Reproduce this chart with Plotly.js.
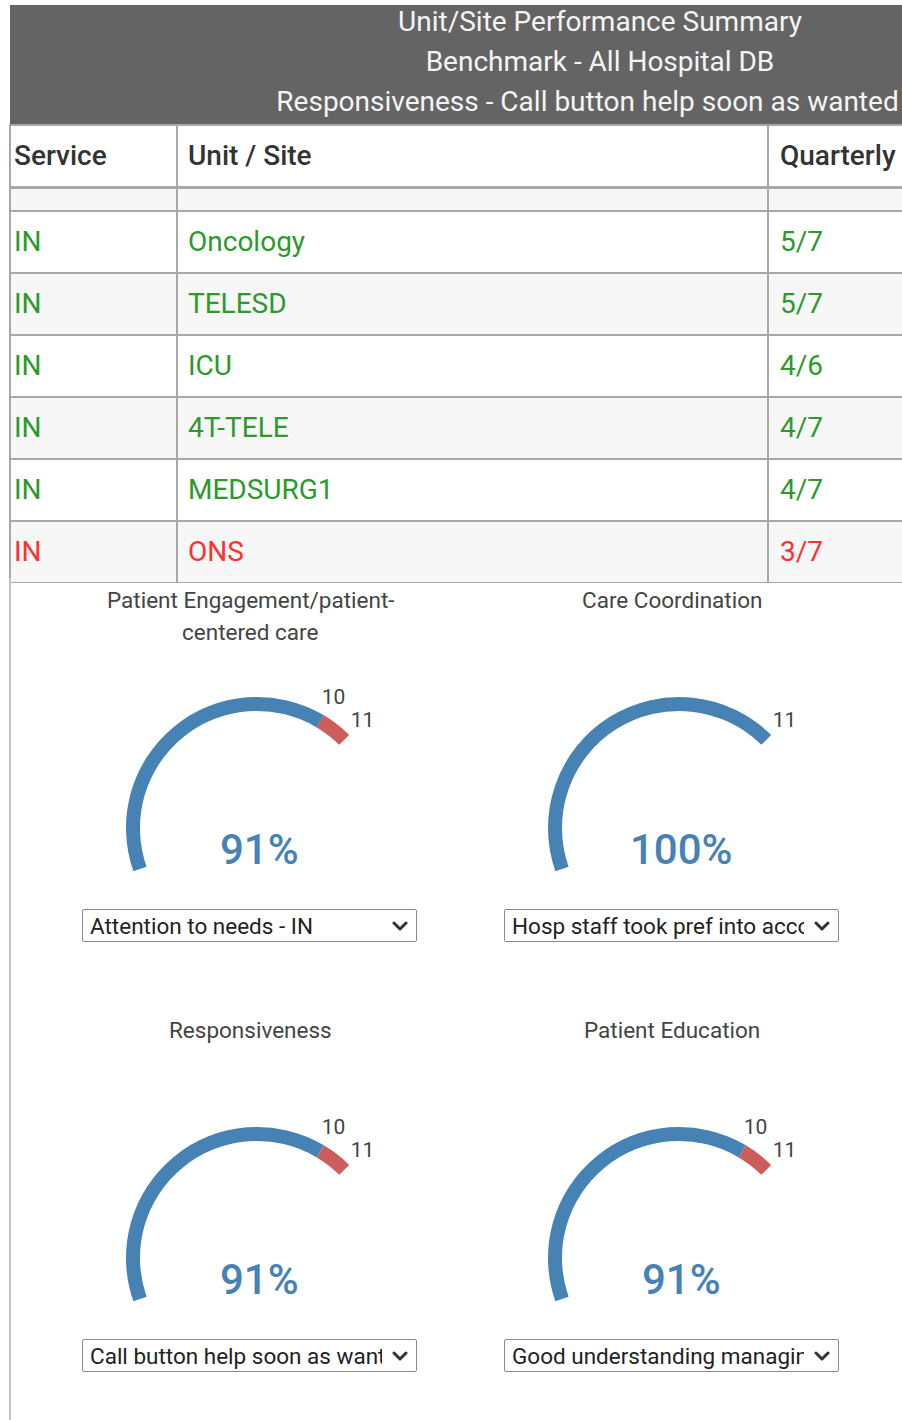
<!DOCTYPE html>
<html><head><meta charset="utf-8">
<script src="https://cdn.plot.ly/plotly-3.0.1.min.js"></script>
<style>
html,body{margin:0;padding:0;overflow:hidden;background:#fff;width:902px;height:1420px;}
#wrap{position:relative;width:1200px;height:1420px;}
#chart{position:absolute;left:0;top:0;width:1200px;height:1420px;}
select{position:absolute;font-family:Roboto,sans-serif;font-size:22.5px;height:33px;width:335px;
  border:1.5px solid #8a8a8a;border-radius:2px;color:#222;padding:0 34px 0 7px;margin:0;
  -webkit-appearance:none;appearance:none;box-sizing:border-box;
  background:#fff url("data:image/svg+xml;utf8,<svg xmlns='http://www.w3.org/2000/svg' width='16' height='10' viewBox='0 0 16 10'><path d='M2 2 L8 8 L14 2' fill='none' stroke='%23333' stroke-width='3' stroke-linecap='round' stroke-linejoin='round'/></svg>") no-repeat right 8px center;}
</style></head><body><div id="wrap"><div id="chart"></div></div>
<script>
// ---------- data ----------
const bannerLines = ["Unit/Site Performance Summary", "Benchmark - All Hospital DB", "Responsiveness - Call button help soon as wanted"];
const columnHeaders = ["Service", "Unit / Site", "Quarterly"];
const services = ["IN", "IN", "IN", "IN", "IN", "IN"];
const units = ["Oncology", "TELESD", "ICU", "4T-TELE", "MEDSURG1", "ONS"];
const quarterlyMet = [5, 5, 4, 4, 4, 3];
const quarterlyTotal = [7, 7, 6, 7, 7, 7];

const gaugeTitles = ["Patient Engagement/patient-<br>centered care", "Care Coordination", "Responsiveness", "Patient Education"];
const gaugeValues = [10, 11, 10, 10];
const gaugeMax = [11, 11, 11, 11];
const gaugeMeasures = ["Attention to needs - IN", "Hosp staff took pref into account - IN", "Call button help soon as wanted - IN", "Good understanding managing health - IN"];

// ---------- style / layout constants ----------
const W = 1200, H = 1420;
const px = x => x / W, py = y => 1 - y / H;
const FONT = "Roboto, 'Open Sans', sans-serif";
const GREEN = "#2b9a2b", RED = "#ff3030";
const BLUE = "#4682b4", ARC_RED = "#cd5c5c";
const LINE = "#a8a8a8", CLEAR = "rgba(0,0,0,0)", BANNER = "#646464";
const SPAN = 154, START = 199.3;      // gauge sweep (deg) and start angle (deg, ccw from east)
const R = 160, R_IN = 117, THICK = 14, R_LABEL = 150;
const colX = [257, 679], rowY = [828, 1258];
const TXT_DY = 11;                    // vertical text offset inside table rows
const gridWidths = [167, 591, 422];   // cell borders start at x=10
const textWidths = [174, 592, 418];   // text layer starts at x=6
const bannerFont = {family: FONT, size: 28, color: "#f4f4f4"};

const traces = [];
const annotations = [];
const layout = {
  width: W, height: H, margin: {l: 0, r: 0, t: 0, b: 0},
  paper_bgcolor: "#fff", plot_bgcolor: "#fff", showlegend: false,
  font: {family: FONT},
  shapes: [{type: "line", xref: "paper", yref: "paper", x0: px(10), x1: px(10), y0: py(578), y1: 0,
            line: {color: "#c4c4c4", width: 2}}],
  annotations: annotations
};

// banner: fill layer
traces.push({
  type: "table", domain: {x: [px(10), px(1190)], y: [py(125), py(5)]},
  columnwidth: [1],
  header: {values: [""], height: 40, fill: {color: BANNER}, line: {color: BANNER, width: 0}},
  cells: {values: [["", ""]], height: 40, fill: {color: BANNER}, line: {color: BANNER, width: 0}}
});
// banner: text lines 1-2
traces.push({
  type: "table", domain: {x: [px(10), px(1190)], y: [py(122), py(2)]},
  columnwidth: [1],
  header: {values: [bannerLines[0]], height: 40, align: "center",
           fill: {color: CLEAR}, line: {color: CLEAR, width: 0}, font: bannerFont},
  cells: {values: [[bannerLines[1], ""]], height: 40, align: "center",
          fill: {color: CLEAR}, line: {color: CLEAR, width: 0}, font: bannerFont}
});
// banner: text line 3
traces.push({
  type: "table", domain: {x: [px(0), px(1175)], y: [py(122), py(2)]},
  columnwidth: [1],
  header: {values: [""], height: 40, fill: {color: CLEAR}, line: {color: CLEAR, width: 0}},
  cells: {values: [["", bannerLines[2]]], height: 40, align: "center",
          fill: {color: CLEAR}, line: {color: CLEAR, width: 0}, font: bannerFont}
});

// column header row: grid layer + text layer
traces.push({
  type: "table", domain: {x: [px(10), px(1190)], y: [py(188), py(125)]},
  columnwidth: gridWidths,
  header: {values: ["", "", ""], height: 62, fill: {color: "#ffffff"}, line: {color: LINE, width: 2}},
  cells: {values: [[], [], []]}
});
traces.push({
  type: "table", domain: {x: [px(6), px(1190)], y: [py(188 + TXT_DY), py(125 + TXT_DY)]},
  columnwidth: textWidths,
  header: {values: columnHeaders, height: 62, align: "left",
           fill: {color: CLEAR}, line: {color: CLEAR, width: 0},
           font: {family: FONT, size: 28, color: "#333333", weight: 500}},
  cells: {values: [[], [], []]}
});

// body rows (first, partially scrolled row is blank)
const quarterly = quarterlyMet.map((m, i) => m + "/" + quarterlyTotal[i]);
const rowColor = quarterlyMet.map((m, i) => (m / quarterlyTotal[i] >= 0.5 ? GREEN : RED));
const rowFill = units.map((u, i) => (i % 2 === 0 ? "#ffffff" : "#f7f7f7"));
const blanks = units.map(() => "");
traces.push({
  type: "table", domain: {x: [px(10), px(1190)], y: [py(584), py(188)]},
  columnwidth: gridWidths,
  header: {values: ["", "", ""], height: 23, fill: {color: "#f7f7f7"}, line: {color: LINE, width: 2}},
  cells: {values: [blanks, blanks, blanks], height: 62,
          fill: {color: [rowFill, rowFill, rowFill]}, line: {color: LINE, width: 2}}
});
traces.push({
  type: "table", domain: {x: [px(6), px(1190)], y: [py(584 + TXT_DY), py(188 + TXT_DY)]},
  columnwidth: textWidths,
  header: {values: ["", "", ""], height: 23, fill: {color: CLEAR}, line: {color: CLEAR, width: 0}},
  cells: {values: [services, units, quarterly], height: 62, align: "left",
          fill: {color: CLEAR}, line: {color: CLEAR, width: 0},
          font: {family: FONT, size: 28, color: [rowColor, rowColor, rowColor]}}
});

// gauges
gaugeValues.forEach((val, i) => {
  const mx = gaugeMax[i];
  const cx = colX[i % 2], cy = rowY[Math.floor(i / 2)];
  const name = i === 0 ? "polar" : "polar" + (i + 1);
  const deg = v => v / mx * SPAN;
  layout[name] = {
    domain: {x: [px(cx - R), px(cx + R)], y: [py(cy + R), py(cy - R)]},
    bgcolor: "rgba(0,0,0,0)",
    radialaxis: {visible: false, range: [0, R]},
    angularaxis: {visible: false, rotation: START - 360, direction: "clockwise", thetaunit: "degrees"}
  };
  traces.push({type: "barpolar", subplot: name, theta: [deg(val / 2)], width: [deg(val)],
               base: [R_IN], r: [THICK], marker: {color: BLUE, line: {width: 0}}, hoverinfo: "skip"});
  const labTheta = [], labText = [];
  if (val < mx) {
    traces.push({type: "barpolar", subplot: name, theta: [deg((val + mx) / 2)], width: [deg(mx - val)],
                 base: [R_IN], r: [THICK], marker: {color: ARC_RED, line: {width: 0}}, hoverinfo: "skip"});
    labTheta.push(deg(val)); labText.push(String(val));
  }
  labTheta.push(deg(mx)); labText.push(String(mx));
  traces.push({type: "scatterpolar", subplot: name, mode: "text", r: labTheta.map(() => R_LABEL),
               theta: labTheta, text: labText, textposition: "middle center",
               textfont: {family: FONT, size: 21, color: "#444"}, hoverinfo: "skip", cliponaxis: false});
  // percentage
  annotations.push({xref: "paper", yref: "paper", x: px(cx + 2), y: py(cy + 21), showarrow: false,
                    xanchor: "center", yanchor: "middle",
                    text: Math.round(100 * val / mx) + "%",
                    font: {family: FONT, size: 42, color: BLUE, weight: 500}});
  // title lines
  gaugeTitles[i].split("<br>").forEach((line, k) => {
    annotations.push({xref: "paper", yref: "paper", x: px(cx - 7), y: py(cy - 228 + 32 * k), showarrow: false,
                      xanchor: "center", yanchor: "middle", text: line,
                      font: {family: FONT, size: 22.5, color: "#444"}});
  });
  // dropdown
  const sel = document.createElement("select");
  const opt = document.createElement("option");
  opt.textContent = gaugeMeasures[i];
  sel.appendChild(opt);
  sel.style.left = (cx - 175) + "px";
  sel.style.top = (cy + 81) + "px";
  document.getElementById("wrap").appendChild(sel);
});

Plotly.newPlot("chart", traces, layout, {displayModeBar: false, staticPlot: true});
</script>
</body></html>
